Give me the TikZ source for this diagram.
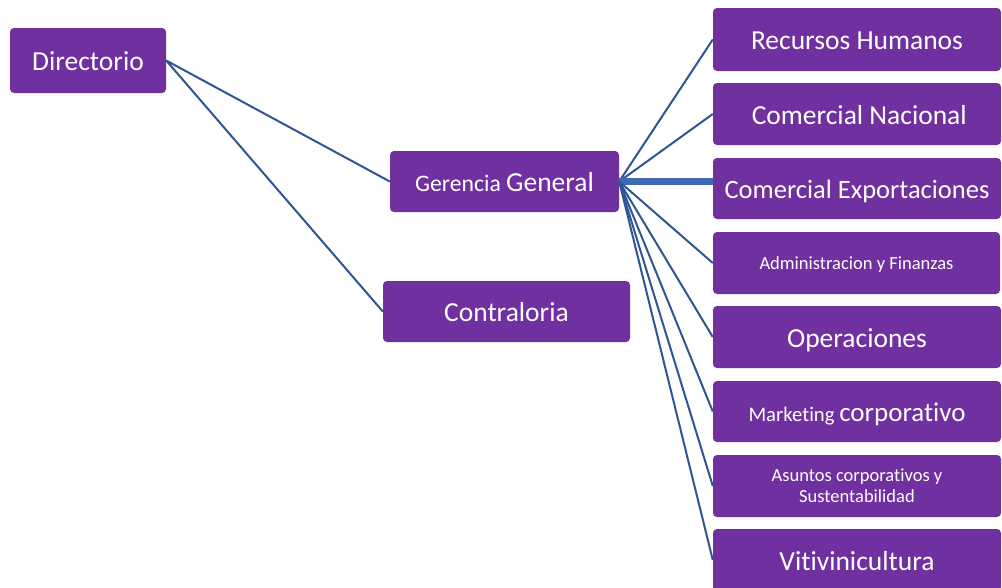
\documentclass[tikz,border=0pt]{standalone}
\usepackage{fontspec}
\setmainfont[Ligatures=NoCommon]{Carlito}
\definecolor{boxpurple}{HTML}{7030A0}
\definecolor{linkblue}{HTML}{2F5597}
\definecolor{thickblue}{HTML}{4169B2}
\begin{document}
\begin{tikzpicture}[x=1pt,y=-1pt,
  orgbox/.style={fill=boxpurple, draw=none, rounded corners=4pt, text=white, inner sep=0pt, align=center},
  big/.style={font=\fontsize{27.5}{33}\selectfont, text height=20pt, text depth=0pt},
  bigmix/.style={text height=20pt, text depth=0pt},
  small/.style={font=\fontsize{18.5}{21}\selectfont},
  smallone/.style={small, text height=13pt, text depth=0pt},
  link/.style={draw=linkblue, line width=2pt},
  thicklink/.style={draw=thickblue, line width=7pt}
]
\useasboundingbox (0,0) rectangle (1002,587);
\fill[white] (0,0) rectangle (1002,587);
% left boxes
\node[orgbox, big, minimum width=156pt, minimum height=65pt] (dir) at (88,60.5) {Directorio};
\node[orgbox, bigmix, minimum width=229pt, minimum height=61pt] (ger) at (504.5,181.5) {\fontsize{23.7}{28}\selectfont Gerencia \fontsize{27.5}{33}\selectfont General};
\node[orgbox, big, minimum width=247pt, minimum height=61pt] (con) at (506.5,311.5) {Contraloria};
% right boxes
\node[orgbox, big, minimum width=288pt, minimum height=63pt] (rh) at (857,39.5) {Recursos Humanos};
\node[orgbox, big, minimum width=288pt, minimum height=62pt] (cn) at (857,114) {\,Comercial Nacional};
\node[orgbox, bigmix, minimum width=288pt, minimum height=61pt] (ce) at (857,188.5) {\fontsize{26.5}{32}\selectfont Comercial Exportaciones};
\node[orgbox, smallone, minimum width=287pt, minimum height=62pt] (af) at (856.5,263) {Administracion y Finanzas};
\node[orgbox, big, minimum width=288pt, minimum height=62pt] (op) at (857,337) {Operaciones};
\node[orgbox, bigmix, minimum width=288pt, minimum height=61pt] (mk) at (857,411.5) {\fontsize{20.7}{25}\selectfont Marketing \fontsize{27}{33}\selectfont corporativo};
\node[orgbox, small, minimum width=288pt, minimum height=62pt] (as) at (857,486) {Asuntos corporativos y\\Sustentabilidad};
\node[orgbox, big, minimum width=288pt, minimum height=62pt] (vi) at (857,560) {Vitivinicultura};
% connectors
\draw[link] (dir.east) -- (ger.west);
\draw[link] (dir.east) -- (con.west);
\draw[link] (ger.east) -- (rh.west);
\draw[link] (ger.east) -- (cn.west);
\draw[thicklink] (ger.east) -- (ger.east -| ce.west);
\draw[link] (ger.east) -- (af.west);
\draw[link] (ger.east) -- (op.west);
\draw[link] (ger.east) -- (mk.west);
\draw[link] (ger.east) -- (as.west);
\draw[link] (ger.east) -- (vi.west);
\end{tikzpicture}
\end{document}
